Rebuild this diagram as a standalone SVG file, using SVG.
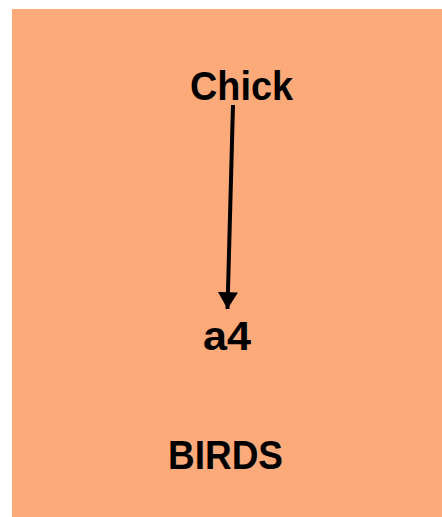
<svg xmlns="http://www.w3.org/2000/svg" width="442" height="517" viewBox="0 0 442 517">
<style>
.lbl{font-family:"Liberation Sans",Arial,sans-serif;font-weight:bold;font-size:41px;fill:#000;text-anchor:middle}
</style>
<defs>
<marker id="ah" markerWidth="5" markerHeight="5" refX="4.2" refY="2.5" orient="auto" markerUnits="strokeWidth">
<path d="M0,0 L4.2,2.5 L0,5 Z" fill="#000"/>
</marker>
</defs>
<rect x="12" y="9" width="430" height="508" fill="#FDAA7A"/>
<g id="connectors">
<line x1="233" y1="105" x2="227.5" y2="309" stroke="#000" stroke-width="4" marker-end="url(#ah)"/>
</g>
<g id="chick"><text class="lbl" x="241.5" y="100" textLength="103" lengthAdjust="spacingAndGlyphs">Chick</text></g>
<g id="a4"><text class="lbl" x="227" y="350" textLength="48" lengthAdjust="spacingAndGlyphs">a4</text></g>
<g id="birds"><text class="lbl" x="225.5" y="469" textLength="115" lengthAdjust="spacingAndGlyphs">BIRDS</text></g>
</svg>
